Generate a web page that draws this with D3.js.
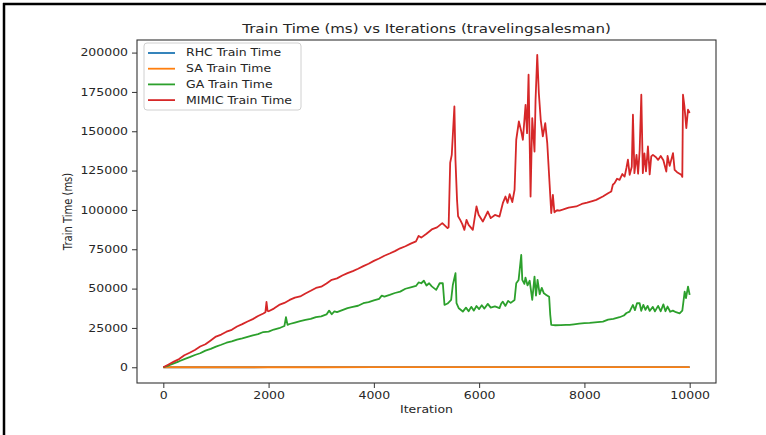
<!DOCTYPE html>
<html>
<head>
<meta charset="utf-8">
<script src="https://cdn.jsdelivr.net/npm/d3@7"></script>
<style>
  html, body { margin: 0; padding: 0; background: #fff; }
  #chart { width: 766px; height: 435px; }
  text { font-family: "DejaVu Sans", sans-serif; fill: #262626; }
</style>
</head>
<body>
<div id="chart"></div>
<script>
// iterations where RHC / SA were sampled
var flatIters = [0, 1000, 2000, 3000, 4000, 5000, 6000, 7000, 8000, 9000, 10000];
var rhcTime = [0, 14, 27, 38, 52, 63, 77, 88, 101, 115, 126];
var saTime = [0, 9, 18, 26, 35, 44, 52, 61, 70, 78, 87];

// [iteration, ms]
var gaPoints = [
  [0,0],[100,1100],[200,2500],[300,3800],[400,5200],[500,6400],[600,7800],[700,8900],[800,10600],[900,11700],
  [1000,13100],[1100,14300],[1200,15600],[1300,16500],[1400,17600],[1500,18400],[1600,19300],[1700,20200],
  [1800,21100],[1900,22400],[2000,22700],[2100,24000],[2200,24800],[2300,26200],[2330,31800],[2360,26900],
  [2400,27500],[2500,28400],[2600,29300],[2700,30100],[2800,30700],[2900,31900],[3000,32400],[3100,33600],
  [3150,36000],[3200,33700],[3250,35500],[3300,35000],[3400,36300],[3500,37600],[3600,38400],[3700,39100],
  [3800,40700],[3900,41400],[4000,42500],[4100,43500],[4150,45500],[4200,44900],[4300,46000],[4400,47200],
  [4500,48100],[4600,49900],[4700,50800],[4800,51700],[4850,53900],[4900,53400],[4950,55000],[5000,52000],
  [5050,53400],[5100,51400],[5184,49200],[5250,53400],[5310,53400],[5342,39600],[5400,40500],[5468,42800],
  [5500,52300],[5551,59800],[5570,40700],[5614,37500],[5690,35400],[5750,37900],[5800,35600],[5850,38400],
  [5900,36000],[5950,38900],[6000,37000],[6050,39400],[6100,37300],[6165,40300],[6220,37900],[6300,38700],
  [6387,37600],[6420,40500],[6450,41700],[6500,39000],[6550,42200],[6600,40900],[6673,42800],[6705,53400],
  [6750,55500],[6800,71400],[6820,55500],[6860,53000],[6880,57000],[6920,52000],[6960,55000],[7009,42800],
  [7052,57600],[7080,45500],[7110,55500],[7150,46500],[7190,50500],[7230,47000],[7275,46000],[7330,44800],
  [7351,33300],[7370,26900],[7450,26700],[7550,26800],[7650,27000],[7718,26900],[7800,27300],[7900,27700],
  [8000,28000],[8100,28200],[8200,28500],[8352,29000],[8450,30300],[8550,30800],[8668,31800],[8750,32900],
  [8800,34500],[8859,35400],[8922,39600],[8960,36300],[9000,40800],[9049,40700],[9080,35900],[9120,39700],
  [9160,36500],[9200,39000],[9240,35800],[9300,38400],[9340,35500],[9400,39000],[9450,35600],[9500,40000],
  [9540,35600],[9580,38600],[9630,35300],[9680,36000],[9740,35000],[9809,34300],[9860,36000],[9905,48100],
  [9930,44000],[9968,51300],[10000,46000]
];

var mimicPoints = [
  [0,0],[100,1800],[200,3600],[300,5200],[400,7600],[500,9200],[600,11000],[700,13200],[800,14600],[900,17000],
  [1000,19500],[1100,20800],[1200,22600],[1300,23800],[1400,25900],[1500,27400],[1600,29100],[1700,30600],
  [1800,32600],[1900,34200],[1940,35000],[1960,41500],[1980,35800],[2000,35600],[2100,37300],[2200,39600],
  [2300,40900],[2400,42800],[2500,44300],[2600,45000],[2700,46900],[2800,48600],[2900,50400],[3000,51200],
  [3100,53300],[3200,55600],[3300,56500],[3400,58300],[3500,59800],[3600,61100],[3700,62600],[3800,64300],
  [3900,65800],[4000,67600],[4100,69100],[4200,70900],[4300,72300],[4400,73800],[4500,75600],[4600,76900],
  [4700,78600],[4800,80000],[4850,83500],[4900,82400],[5000,84900],[5100,87600],[5200,88900],[5300,91600],
  [5400,88400],[5420,89000],[5450,130000],[5480,135000],[5530,165800],[5550,131900],[5580,106400],[5600,96000],
  [5640,93700],[5680,91000],[5720,87300],[5760,93700],[5800,90500],[5880,87300],[5950,102200],[5990,96900],
  [6070,92600],[6165,99000],[6220,94800],[6300,96800],[6387,95800],[6450,104300],[6500,108500],[6540,104500],
  [6580,110000],[6630,105000],[6673,112800],[6705,144600],[6755,156200],[6800,150000],[6831,144600],
  [6882,166800],[6910,148800],[6939,185900],[6977,108500],[7009,158400],[7052,137100],[7072,170000],
  [7104,198600],[7134,174300],[7170,157300],[7210,146700],[7256,155200],[7294,142500],[7370,98000],
  [7401,109600],[7430,98500],[7480,99800],[7528,99600],[7600,100300],[7700,101500],[7845,102200],[7950,103800],
  [8050,104600],[8150,105600],[8225,106400],[8350,108500],[8450,110600],[8510,111700],[8540,116000],
  [8573,117000],[8620,119800],[8668,119100],[8720,122800],[8764,121200],[8800,127000],[8827,131900],
  [8860,122300],[8900,127500],[8922,160500],[8950,123400],[8990,135000],[9020,123000],[9050,138000],
  [9081,173200],[9110,123400],[9140,136000],[9170,124500],[9207,140300],[9240,122600],[9270,134000],
  [9302,135000],[9360,133500],[9400,131800],[9450,134300],[9500,131600],[9556,124400],[9580,134300],
  [9620,128000],[9683,136100],[9714,125500],[9760,124000],[9800,123200],[9841,122300],[9860,121000],
  [9873,173200],[9900,166000],[9936,152000],[9968,163700],[10000,161600]
];

var xTicks = [0, 2000, 4000, 6000, 8000, 10000];
var yTicks = [0, 25000, 50000, 75000, 100000, 125000, 150000, 175000, 200000];
var seriesNames = ["RHC Train Time", "SA Train Time", "GA Train Time", "MIMIC Train Time"];
var seriesColors = ["#1f77b4", "#ff7f0e", "#2ca02c", "#d62728"];

var W = 766, H = 435;
var plot = { left: 137, right: 716, top: 40, bottom: 383 };
var SX = 1.25; // the picture is stretched horizontally

var svg = d3.select("#chart").append("svg")
    .attr("width", W)
    .attr("height", H);

// outer frame: top and left black edges
svg.append("line").attr("x1", 3).attr("x2", W).attr("y1", 4).attr("y2", 4)
    .style("stroke", "#000").style("stroke-width", 2.5);
svg.append("line").attr("x1", 4).attr("x2", 4).attr("y1", 3).attr("y2", H)
    .style("stroke", "#000").style("stroke-width", 2.5);

var x = d3.scaleLinear().domain([-500, 10500]).range([plot.left, plot.right]);
var y = d3.scaleLinear().domain([-10000, 208000]).range([plot.bottom, plot.top]);

function stretch(sel) {
    sel.each(function() {
        var t = d3.select(this);
        var xv = +t.attr("x") || 0;
        t.attr("x", xv / SX).attr("transform", "scale(" + SX + ",1)");
    });
}

var yAxis = svg.append("g")
    .attr("transform", "translate(" + plot.left + ",0)")
    .call(d3.axisLeft(y).tickValues(yTicks).tickSize(5).tickPadding(4).tickFormat(d3.format("d")));
var xAxis = svg.append("g")
    .attr("transform", "translate(0," + plot.bottom + ")")
    .call(d3.axisBottom(x).tickValues(xTicks).tickSize(5).tickPadding(4).tickFormat(d3.format("d")));

[yAxis, xAxis].forEach(function(ax) {
    ax.select(".domain").remove();
    ax.selectAll(".tick line").style("stroke", "#333").style("stroke-width", 1);
    ax.selectAll(".tick text")
        .style("font-family", "'DejaVu Sans', sans-serif")
        .style("font-size", "10px")
        .style("fill", "#262626")
        .call(stretch);
});

// series
var line = d3.line()
    .x(function(d) { return x(d[0]); })
    .y(function(d) { return y(d[1]); });

var series = [
    flatIters.map(function(it, i) { return [it, rhcTime[i]]; }),
    flatIters.map(function(it, i) { return [it, saTime[i]]; }),
    gaPoints,
    mimicPoints
];

svg.append("defs").append("clipPath").attr("id", "clip")
  .append("rect")
    .attr("x", plot.left).attr("y", plot.top)
    .attr("width", plot.right - plot.left).attr("height", plot.bottom - plot.top);

series.forEach(function(pts, i) {
    svg.append("path")
        .datum(pts)
        .attr("clip-path", "url(#clip)")
        .attr("d", line)
        .style("fill", "none")
        .style("stroke", seriesColors[i])
        .style("stroke-width", 1.8)
        .style("stroke-linejoin", "round");
});

// spines
svg.append("rect")
    .attr("x", plot.left).attr("y", plot.top)
    .attr("width", plot.right - plot.left).attr("height", plot.bottom - plot.top)
    .style("fill", "none").style("stroke", "#333").style("stroke-width", 1.1);

// title and axis labels
svg.append("text")
    .attr("x", (plot.left + plot.right) / 2 / SX).attr("y", 33)
    .attr("transform", "scale(" + SX + ",1)")
    .style("text-anchor", "middle").style("font-size", "12px")
    .text("Train Time (ms) vs Iterations (travelingsalesman)");

svg.append("text")
    .attr("x", (plot.left + plot.right) / 2 / SX).attr("y", 413)
    .attr("transform", "scale(" + SX + ",1)")
    .style("text-anchor", "middle").style("font-size", "10px")
    .text("Iteration");

svg.append("text")
    .attr("transform", "translate(72," + ((plot.top + plot.bottom) / 2) + ") scale(" + SX + ",1) rotate(-90)")
    .style("text-anchor", "middle").style("font-size", "10px")
    .text("Train Time (ms)");

// legend
var legend = svg.append("g").attr("transform", "translate(144,43)");
legend.append("rect")
    .attr("width", 157).attr("height", 67).attr("rx", 3)
    .style("fill", "#fff").style("fill-opacity", 0.8)
    .style("stroke", "#d0d0d0").style("stroke-width", 1);

seriesNames.forEach(function(name, i) {
    var ly = 10 + i * 15.7;
    legend.append("line")
        .attr("x1", 4).attr("x2", 31).attr("y1", ly).attr("y2", ly)
        .style("stroke", seriesColors[i]).style("stroke-width", 1.8);
    legend.append("text")
        .attr("x", 42 / SX).attr("y", ly).attr("dy", "0.35em")
        .attr("transform", "scale(" + SX + ",1)")
        .style("font-size", "10px")
        .text(name);
});
</script>
</body>
</html>
